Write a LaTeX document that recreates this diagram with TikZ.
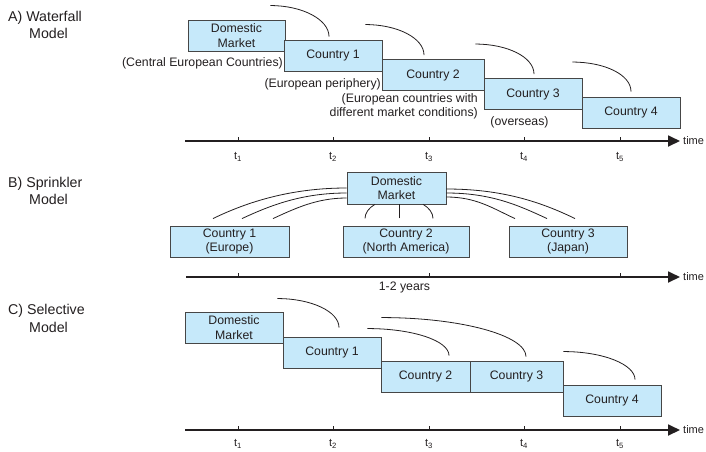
\documentclass[tikz,border=0pt]{standalone}
\usepackage{fontspec}
\setmainfont{Liberation Sans}
\usetikzlibrary{arrows.meta,calc}

\definecolor{boxfill}{RGB}{198,233,250}
\definecolor{boxline}{RGB}{70,70,70}
\definecolor{ink}{RGB}{35,31,32}

\tikzset{
  mkt/.style={draw=boxline, line width=0.9pt, fill=boxfill, inner sep=0pt,
    minimum height=31, align=center, text=ink, font=\fontsize{12.3}{14.5}\selectfont},
  note/.style={inner sep=0pt, text=ink, font=\fontsize{12.3}{13.5}\selectfont},
  ttl/.style={inner sep=0pt, anchor=base west, text=ink, font=\fontsize{14.2}{17}\selectfont},
  lag/.style={line width=0.8pt, ink},
  axis/.style={line width=1.8pt, ink, -{Triangle[length=12pt,width=11pt]}},
  tickmark/.style={line width=0.8pt, ink},
  tlbl/.style={inner sep=0pt, text=ink, font=\fontsize{11}{13}\selectfont},
}

\begin{document}
\begin{tikzpicture}[x=1pt, y=-1pt]
    \useasboundingbox (0,0) rectangle (706,451);

    % A) Waterfall model
    \node[ttl] (ttlA) at (8,21) {A) Waterfall};
    \node[ttl] (ttlAm) at (29,38) {Model};

    \node[mkt, minimum width=97] (dmA) at (236.5,35.5) {Domestic\\Market};
    \node[mkt, minimum width=98] (c1A) at (333,55.5) {Country 1};
    \node[mkt, minimum width=102] (c2A) at (433,75) {Country 2};
    \node[mkt, minimum width=98] (c3A) at (533,94) {Country 3};
    \node[mkt, minimum width=98] (c4A) at (631,112.5) {Country 4};

    % time lags
    \draw[lag] ($(dmA.north east)+(-15,-14)$) .. controls +(32,0) and +(0,-17) .. ($(c1A.north)+(-4,-3)$);
    \draw[lag] ($(c1A.north east)+(-17,-15)$) .. controls +(32,0) and +(0,-17) .. ($(c2A.north)+(-9,-4)$);
    \draw[lag] ($(c2A.north east)+(-9,-15)$) .. controls +(32,0) and +(0,-17) .. ($(c3A.north)+(1,-4)$);
    \draw[lag] ($(c3A.north east)+(-10,-16)$) .. controls +(32,0) and +(0,-17) .. ($(c4A.north)+(0,-5)$);

    \node[note, anchor=east] (lblCE) at (283,63) {(Central European Countries)};
    \node[note, anchor=east] (lblEP) at (381,84) {(European periphery)};
    \node[note, anchor=east, align=right] (lblED) at (478,106.5) {(European countries with\\different market conditions)};
    \node[note] (lblOS) at (519.5,122) {(overseas)};

    % axis
    \coordinate (axA0) at (185,141);
    \coordinate (axA1) at (680,141);
    \draw[axis] (axA0) -- (axA1);
    \node[tlbl, anchor=west] (timeA) at ($(axA1)+(3,0)$) {time};
    \foreach \x [count=\i] in {238,333,429,524,620} {
        \draw[tickmark] (\x,141) -- (\x,137);
        \node[tlbl] (tA\i) at (\x,157) {t\textsubscript{\i}};
    }

    % B) Sprinkler model
    \node[ttl] (ttlB) at (8,187) {B) Sprinkler};
    \node[ttl] (ttlBm) at (29,204) {Model};

    \node[mkt, minimum width=99, minimum height=32] (dmB) at (396.5,188) {Domestic\\Market};
    \node[mkt, minimum width=119] (c1B) at (229.5,241.5) {Country 1\\(Europe)};
    \node[mkt, minimum width=126] (c2B) at (406,241.5) {Country 2\\(North America)};
    \node[mkt, minimum width=118] (c3B) at (568,241.5) {Country 3\\(Japan)};

    % simultaneous entry
    \draw[lag] (dmB.west) .. controls +(-55,0) and +(35,-17) .. ($(c1B.north)+(-16.5,-7)$);
    \draw[lag] ($(dmB.west)+(0,5)$) .. controls +(-45,0) and +(28,-13) .. ($(c1B.north)+(12.5,-7)$);
    \draw[lag] ($(dmB.west)+(0,10)$) .. controls +(-30,0) and +(22,-10) .. ($(c1B.north)+(43.5,-7)$);
    \draw[lag] ($(dmB.east)+(0,1)$) .. controls +(55,0) and +(-35,-17) .. ($(c3B.north)+(7,-7)$);
    \draw[lag] ($(dmB.east)+(0,5)$) .. controls +(45,0) and +(-28,-13) .. ($(c3B.north)+(-21,-7)$);
    \draw[lag] ($(dmB.east)+(0,9)$) .. controls +(30,0) and +(-22,-10) .. ($(c3B.north)+(-53,-7)$);
    \coordinate (bump) at ($(dmB.south)+(2.5,14)$);
    \draw[lag] (bump) -- +(0,-14);
    \draw[lag] ($(bump)+(-34,0)$) arc[start angle=180, end angle=225, x radius=34, y radius=20];
    \draw[lag] ($(bump)+(34,0)$) arc[start angle=0, end angle=-45, x radius=34, y radius=20];

    % axis
    \coordinate (axB0) at (186,277);
    \coordinate (axB1) at (680,277);
    \draw[axis] (axB0) -- (axB1);
    \node[tlbl, anchor=west] (timeB) at ($(axB1)+(3,0)$) {time};
    \foreach \x in {238,429,620}
        \draw[tickmark] (\x,277) -- (\x,273);
    \node[note] (lblYrs) at (404.5,287) {1-2 years};

    % C) Selective model
    \node[ttl] (ttlC) at (8,314) {C) Selective};
    \node[ttl] (ttlCm) at (29,332) {Model};

    \node[mkt, minimum width=98] (dmC) at (234,327.5) {Domestic\\Market};
    \node[mkt, minimum width=98] (c1C) at (332,352.5) {Country 1};
    \node[mkt, minimum width=89] (c2C) at (425.5,376.5) {Country 2};
    \node[mkt, minimum width=93] (c3C) at (516.5,376.5) {Country 3};
    \node[mkt, minimum width=98] (c4C) at (612,400.5) {Country 4};

    % time lags
    \draw[lag] ($(dmC.north east)+(-6,-13)$) .. controls +(34,0) and +(0,-16) .. ($(c1C.north)+(7,-9)$);
    \draw[lag] ($(c1C.north east)+(-14,-8)$) .. controls +(45,0) and +(0,-15) .. ($(c2C.north)+(23.5,-5)$);
    \draw[lag] ($(c1C.north east)+(0,-19)$) .. controls +(80,0) and +(0,-21) .. ($(c3C.north)+(9.5,-4)$);
    \draw[lag] ($(c3C.north east)+(0,-9)$) .. controls +(40,0) and +(0,-15) .. ($(c4C.north)+(23,-5)$);

    % axis
    \coordinate (axC0) at (185,430);
    \coordinate (axC1) at (680,430);
    \draw[axis] (axC0) -- (axC1);
    \node[tlbl, anchor=west] (timeC) at ($(axC1)+(3,0)$) {time};
    \foreach \x [count=\i] in {238,333,429,524,620} {
        \draw[tickmark] (\x,430) -- (\x,426);
        \node[tlbl] (tC\i) at (\x,444) {t\textsubscript{\i}};
    }
\end{tikzpicture}
\end{document}
